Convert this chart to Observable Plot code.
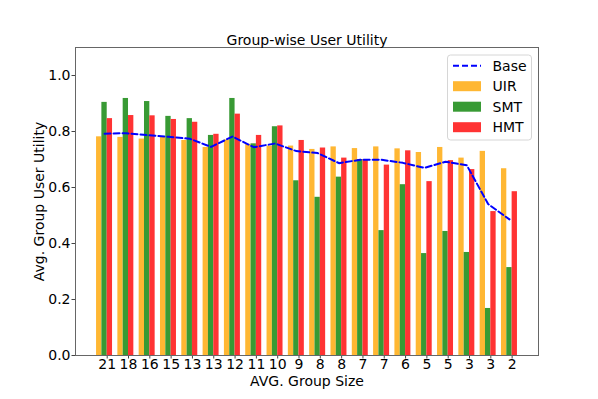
<!DOCTYPE html>
<html>
<head>
<meta charset="utf-8">
<script src="https://cdn.jsdelivr.net/npm/d3@7"></script>
<script src="https://cdn.jsdelivr.net/npm/@observablehq/plot@0.6"></script>
<style>
  html, body { margin: 0; padding: 0; background: white; }
</style>
</head>
<body>
<div id="chart"></div>
<script>
const sizes = ["21","18","16","15","13","13","12","11","10","9","8","8","7","7","6","5","5","3","3","2"];
const uir  = [0.781,0.779,0.773,0.780,0.768,0.743,0.770,0.754,0.748,0.748,0.736,0.745,0.739,0.745,0.738,0.725,0.743,0.705,0.729,0.667];
const smt  = [0.904,0.918,0.907,0.854,0.846,0.786,0.918,0.756,0.817,0.624,0.565,0.637,0.700,0.446,0.610,0.364,0.443,0.368,0.168,0.314];
const hmt  = [0.846,0.857,0.856,0.843,0.833,0.790,0.862,0.786,0.820,0.768,0.741,0.705,0.700,0.680,0.731,0.621,0.696,0.664,0.514,0.585];
const base = [0.792,0.794,0.787,0.781,0.774,0.745,0.782,0.744,0.757,0.730,0.723,0.687,0.699,0.699,0.688,0.670,0.692,0.679,0.541,0.486];

const seriesNames = ["UIR","SMT","HMT"];
const seriesColors = ["#FFB733","#389A34","#FF3333"];
const seriesValues = [uir, smt, hmt];
const baseName = "Base";
const baseColor = "#0000FF";
const barWidth = 0.25;

const rows = [];
seriesValues.forEach((vals, k) => {
  vals.forEach((v, i) => {
    rows.push({series: seriesNames[k], v, x1: i - 0.5 + k * barWidth, x2: i - 0.5 + (k + 1) * barWidth});
  });
});
const baseRows = base.map((v, i) => ({x: i - 0.125, v}));

const chart = Plot.plot({
  width: 598,
  height: 399,
  marginLeft: 75,
  marginRight: 60,
  marginTop: 47,
  marginBottom: 44,
  style: {fontFamily: "DejaVu Sans", fontSize: "14px", color: "black", background: "white"},
  x: {type: "linear", domain: [-1.4875, 20.2375]},
  y: {domain: [0, 1.1]},
  color: {domain: seriesNames, range: seriesColors},
  marks: [
    Plot.rectY(rows, {x1: "x1", x2: "x2", y1: 0, y2: "v", fill: "series"}),
    Plot.line(baseRows, {x: "x", y: "v", stroke: baseColor, strokeWidth: 2, strokeDasharray: "6,3"}),
    Plot.axisX({ticks: d3.range(sizes.length), tickFormat: i => sizes[i], tickSize: 3.5, tickPadding: 0, label: null, fontSize: 14, stroke: "#444"}),
    Plot.axisY({ticks: [0, 0.2, 0.4, 0.6, 0.8, 1.0], tickFormat: d3.format(".1f"), tickSize: 3.5, tickPadding: 1.5, label: null, fontSize: 14, stroke: "#444"}),
    Plot.frame({stroke: "#666", strokeWidth: 1}),
    Plot.text(["Group-wise User Utility"], {frameAnchor: "top", lineAnchor: "middle", textAnchor: "middle", dy: -6.5, fontSize: 14, fill: "black"}),
    Plot.text(["AVG. Group Size"], {frameAnchor: "bottom", lineAnchor: "middle", textAnchor: "middle", dy: 26.5, fontSize: 14, fill: "black"}),
    Plot.text(["Avg. Group User Utility"], {frameAnchor: "left", lineAnchor: "middle", textAnchor: "middle", dx: -35.5, rotate: -90, fontSize: 14, fill: "black"})
  ]
});
document.getElementById("chart").appendChild(chart);

// Legend (upper right, inside the axes)
const svg = d3.select(chart);
const lg = svg.append("g").attr("font-family", "DejaVu Sans").attr("font-size", 14).attr("text-anchor", "start");
lg.append("rect").attr("x", 447.5).attr("y", 55).attr("width", 84).attr("height", 85)
  .attr("rx", 3).attr("fill", "white").attr("fill-opacity", 0.8).attr("stroke", "#d6d6d6");
const entries = [{name: baseName, color: baseColor, line: true}]
  .concat(seriesNames.map((n, k) => ({name: n, color: seriesColors[k], line: false})));
entries.forEach((e, j) => {
  const cy = 65.7 + j * 20.5;
  if (e.line) {
    lg.append("line").attr("x1", 453).attr("x2", 481).attr("y1", cy).attr("y2", cy)
      .attr("stroke", e.color).attr("stroke-width", 2).attr("stroke-dasharray", "6,3");
  } else {
    lg.append("rect").attr("x", 453).attr("y", cy - 5).attr("width", 28).attr("height", 10).attr("fill", e.color);
  }
  lg.append("text").attr("x", 492.5).attr("y", cy).attr("dy", "0.36em").attr("text-anchor", "start").attr("fill", "black").text(e.name);
});
</script>
</body>
</html>
